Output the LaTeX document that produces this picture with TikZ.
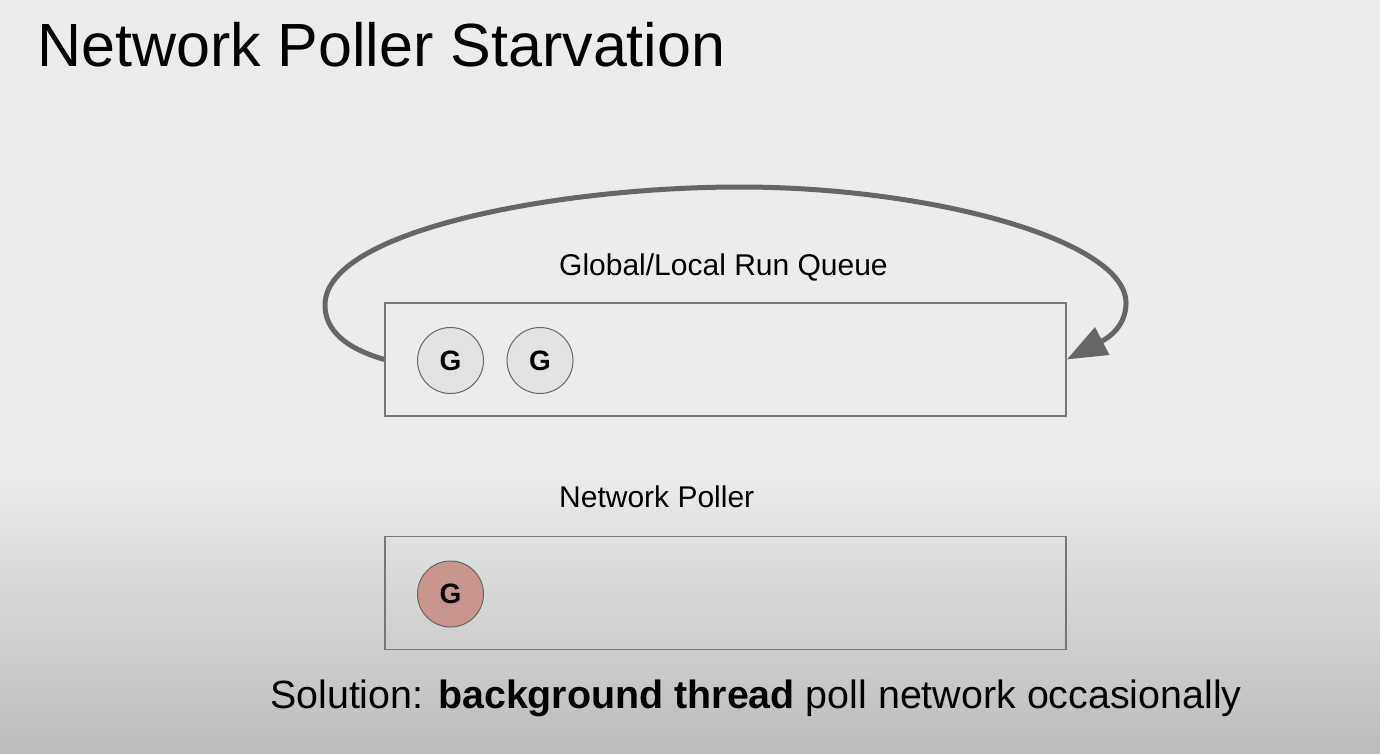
\documentclass[tikz,border=0pt]{standalone}
\usepackage{fontspec}
\setmainfont{Liberation Sans}
\usetikzlibrary{arrows.meta}
\definecolor{bgc}{HTML}{ECECEC}
\definecolor{bgbot}{HTML}{BCBCBC}
\definecolor{linec}{HTML}{666666}
\definecolor{boxc}{HTML}{777777}
\definecolor{gfill}{HTML}{E3E3E3}
\definecolor{rfill}{HTML}{C9968F}
\begin{document}
\begin{tikzpicture}[x=1pt,y=-1pt,
  queuebox/.style={draw=boxc, line width=1.5pt, rectangle, minimum width=681pt, minimum height=113pt, inner sep=0pt},
  gnode/.style={draw=linec, line width=1pt, circle, fill=gfill, minimum size=66pt, inner sep=0pt, font=\fontsize{28}{32}\selectfont\bfseries},
  rnode/.style={gnode, fill=rfill},
  lbl/.style={inner sep=0pt, font=\fontsize{30}{36}\selectfont},
  looparrow/.style={draw=linec, line width=5pt, -{Triangle[length=40pt,width=30pt]}}
]
\useasboundingbox (0,0) rectangle (1380,754);
\fill[bgc] (0,0) rectangle (1380,754);
\shade[top color=bgc, bottom color=bgbot] (0,470) rectangle (1380,754);

\node[anchor=base west, inner sep=0pt, font=\fontsize{61}{70}\selectfont] (title) at (37,67) {Network Poller Starvation};

\node[queuebox] (rq) at (725.5,359.5) {};
\node[queuebox] (np) at (725.5,593) {};

\node[lbl, anchor=base west] (rqlabel) at (559,275) {Global/Local Run Queue};
\node[lbl, anchor=base west] (nplabel) at (559,507) {Network Poller};

\node[gnode] (g1) at (450.5,360.5) {G};
\node[gnode] (g2) at (540,360.5) {G};
\node[rnode] (g3) at (450.5,594) {G};

\draw[looparrow] (rq.west) .. controls (345,348) and (325,330) .. (325,305)
  .. controls (325,230) and (560,187) .. (740,187)
  .. controls (930,187) and (1126,240) .. (1126,303)
  .. controls (1126,325) and (1110,337) .. (rq.east);

\node[anchor=base west, inner sep=0pt, font=\fontsize{39.4}{46}\selectfont] (solution) at (270,708) {Solution: \textbf{background thread} poll network occasionally};
\end{tikzpicture}
\end{document}
